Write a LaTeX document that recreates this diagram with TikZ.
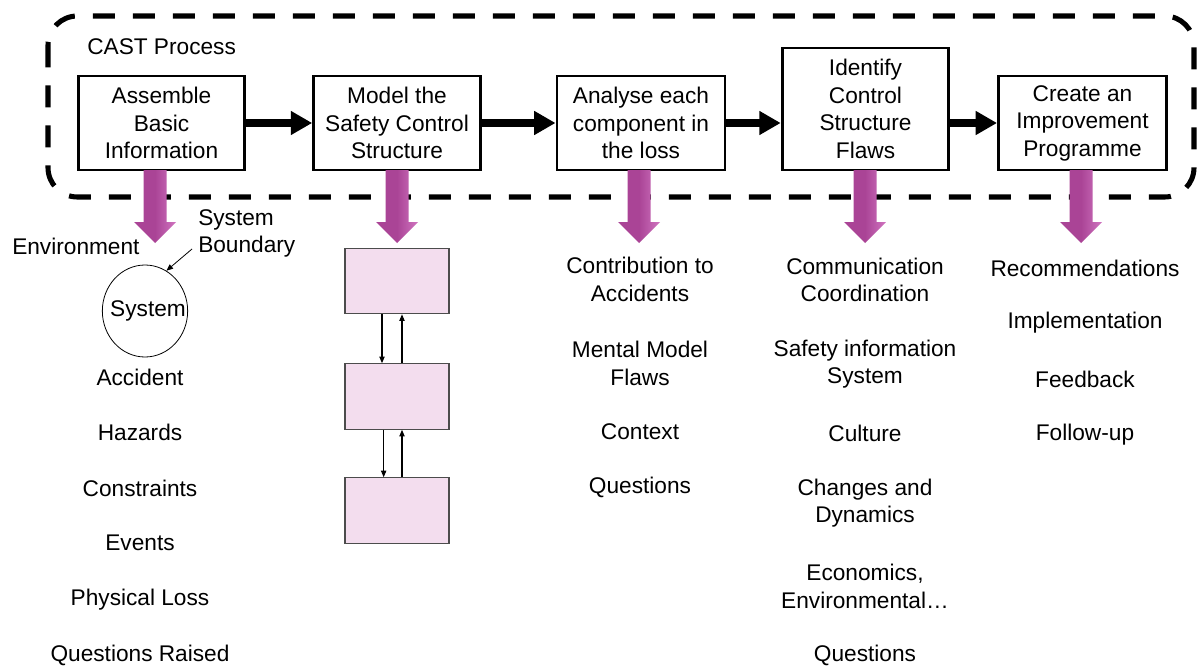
\documentclass[tikz,border=0pt]{standalone}
\usepackage{fontspec}
\setmainfont{Liberation Sans}
\usetikzlibrary{arrows.meta,shapes.geometric}
\definecolor{flowpurple}{RGB}{170,68,150}
\definecolor{flowpurplelight}{RGB}{208,116,192}
\definecolor{layerpink}{RGB}{243,221,238}
\begin{document}
\begin{tikzpicture}[x=0.75pt,y=-0.75pt,
  txt/.style={font=\fontsize{17}{20.6}\selectfont, align=center, inner sep=0pt},
  stage/.style={txt, draw=black, line width=2.2pt, fill=white},
  layer/.style={draw=black!70, line width=0.9pt, fill=layerpink,
    minimum width=78pt, minimum height=49pt, inner sep=0pt},
  flow/.style={line width=6.5pt, -{Triangle[length=16pt,width=17pt]}},
  link/.style={line width=0.8pt, -{Triangle[length=5pt,width=4pt]}},
  pointer/.style={line width=0.6pt, -{Triangle[length=5pt,width=4pt]}},
  downflow/.pic={
    \path[left color=flowpurple, right color=flowpurplelight, middle color=flowpurple]
      (-11.5,0) -- (11.5,0) -- (11.5,52) -- (21,52) -- (0,73) -- (-21,52) -- (-11.5,52) -- cycle;
  },
]
\useasboundingbox (0,0) rectangle (1200,667);
\fill[white] (0,0) rectangle (1200,667);

% process frame
\draw[line width=3.8pt, dash pattern=on 16.5pt off 13.5pt, rounded corners=22pt]
  (48,16) rectangle (1194,197);
\node[txt, anchor=west] (title) at (87,47) {CAST Process};

% the five stages
\node[stage, minimum width=125pt, minimum height=70.5pt] (b1) at (161.5,123) {Assemble\\Basic\\Information};
\node[stage, minimum width=125pt, minimum height=70.5pt] (b2) at (397,123) {Model the\\Safety Control\\Structure};
\node[stage, minimum width=126pt, minimum height=70.5pt] (b3) at (641,123) {Analyse each\\component in\\the loss};
\node[stage, minimum width=125pt, minimum height=91.5pt] (b4) at (865.5,109) {Identify\\Control\\Structure\\Flaws};
\node[stage, minimum width=126pt, minimum height=70.5pt] (b5) at (1082.5,123) {Create an\\Improvement\\Programme};

\draw[flow] (b1) -- (b2);
\draw[flow] (b2) -- (b3);
\draw[flow] (b3.east) -- (b4.west |- b3.east);
\draw[flow] (b4.east |- b5.west) -- (b5.west);

% outputs of each stage
\pic at (155,170) {downflow};
\pic at (397,170) {downflow};
\pic at (639,170) {downflow};
\pic at (865,170) {downflow};
\pic at (1081,170) {downflow};

% column 1: basic information
\node[txt, anchor=west] (env) at (12,246) {Environment};
\node[txt, anchor=west, align=left] (bnd) at (198,233.5) {System\\Boundary};
\node[draw, ellipse, line width=0.6pt, inner sep=0pt, minimum width=64pt, minimum height=69pt] (sys) at (145,311) {};
\node[txt] (systxt) at (148,311) {System};
\coordinate (bndtail) at (192,249);
\draw[pointer] (bndtail) -- (sys.62);
\node[txt] (c1a) at (140,377) {Accident};
\node[txt] (c1b) at (140,432) {Hazards};
\node[txt] (c1c) at (140,488) {Constraints};
\node[txt] (c1d) at (140,543) {Events};
\node[txt] (c1e) at (140,600) {Physical Loss};
\node[txt] (c1f) at (140,655) {Questions Raised};

% column 2: control structure
\node[layer] (l1) at (397,281) {};
\node[layer] (l2) at (397,396.5) {};
\node[layer] (l3) at (397,510.5) {};
\draw[link] ([xshift=-11.25pt]l1.south) -- ([xshift=-11.25pt]l2.north);
\draw[link] ([xshift=3.75pt]l2.north) -- ([xshift=3.75pt]l1.south);
\draw[link] ([xshift=-10pt]l2.south) -- ([xshift=-10pt]l3.north);
\draw[link] ([xshift=3.75pt]l3.north) -- ([xshift=3.75pt]l2.south);

% column 3: component analysis
\node[txt] (c3a) at (640,279.5) {Contribution to\\Accidents};
\node[txt] (c3b) at (640,363.5) {Mental Model\\Flaws};
\node[txt] (c3c) at (640,432) {Context};
\node[txt] (c3d) at (640,487) {Questions};

% column 4: structure flaws
\node[txt] (c4a) at (865,280) {Communication\\Coordination};
\node[txt] (c4b) at (865,364) {Safety information\\System};
\node[txt] (c4c) at (865,433) {Culture};
\node[txt] (c4d) at (865,503) {Changes and\\Dynamics};
\node[txt] (c4e) at (865,586.5) {Economics,\\Environmental…};
\node[txt] (c4f) at (865,655) {Questions};

% column 5: improvement programme
\node[txt] (c5a) at (1085,268) {Recommendations};
\node[txt] (c5b) at (1085,323) {Implementation};
\node[txt] (c5c) at (1085,379) {Feedback};
\node[txt] (c5d) at (1085,435) {Follow-up};
\end{tikzpicture}
\end{document}
